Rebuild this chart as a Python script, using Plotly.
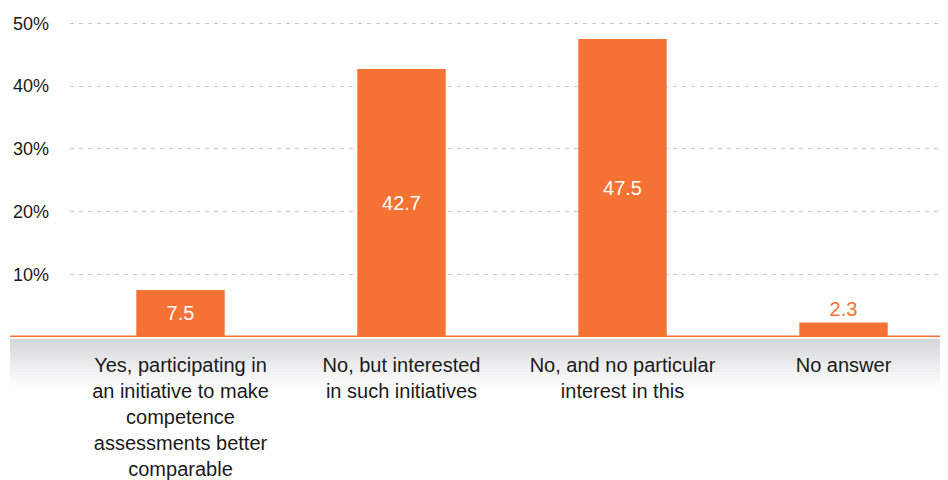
import plotly.graph_objects as go

categories = [
    "Yes, participating in<br>an initiative to make<br>competence<br>assessments better<br>comparable",
    "No, but interested<br>in such initiatives",
    "No, and no particular<br>interest in this",
    "No answer",
]
values = [7.5, 42.7, 47.5, 2.3]
y_ticks = [10, 20, 30, 40, 50]
y_tick_labels = ["10%", "20%", "30%", "40%", "50%"]

ORANGE = "#f37234"
OFF = 8  # page body margin
W, H = 948 - OFF, 480 - OFF
ML, MR, MT, MB = 70 - OFF, 0, 2, 143
plot_w = W - ML - MR
plot_h = H - MT - MB

x_pos = list(range(len(categories)))
text_pos = ["inside", "inside", "inside", "outside"]
text_col = ["white", "white", "white", ORANGE]

fig = go.Figure()
fig.add_trace(go.Bar(
    x=x_pos, y=values, width=0.4,
    marker=dict(color=ORANGE, line=dict(width=0)),
    text=[f"{v:.1f}" for v in values],
    textposition=text_pos,
    insidetextanchor="middle",
    textfont=dict(size=20, color=text_col, family="Liberation Sans, Arial, sans-serif"),
    outsidetextfont=dict(size=20, color=ORANGE),
    cliponaxis=False,
    hoverinfo="skip",
))

# convert page pixel coordinates to paper fractions
def px_x(px):
    return (px - OFF - ML) / plot_w

def px_y(py):
    return (H - MB - (py - OFF)) / plot_h

shapes = []
n = 25
top, bottom = 339, 390
c0 = (214, 215, 218)
for i in range(n):
    t = i / (n - 1)
    c = tuple(int(round(c0[k] + (255 - c0[k]) * t)) for k in range(3))
    y0 = top + (bottom - top) * i / n
    y1 = top + (bottom - top) * (i + 1) / n
    shapes.append(dict(type="rect", xref="paper", yref="paper",
                       x0=px_x(10), x1=px_x(960), y0=px_y(y1), y1=px_y(y0) + 0.001,
                       fillcolor="rgb(%d,%d,%d)" % c, line=dict(width=0), layer="below"))
shapes.append(dict(type="line", xref="paper", yref="y",
                   x0=px_x(10), x1=px_x(960), y0=0, y1=0,
                   line=dict(color=ORANGE, width=3), layer="above"))

fig.update_layout(
    width=W, height=H,
    margin=dict(l=ML, r=MR, t=MT, b=MB, autoexpand=False),
    paper_bgcolor="white", plot_bgcolor="white",
    showlegend=False,
    font=dict(family="Liberation Sans, Arial, sans-serif", color="#1a1a1a"),
    shapes=shapes,
    xaxis=dict(
        range=[-0.5, -0.5 + plot_w / 221.0],
        tickvals=x_pos, ticktext=categories,
        showgrid=False, zeroline=False, showline=False, ticks="",
        tickfont=dict(size=20, color="#1a1a1a"),
        ticklabelstandoff=14,
        automargin=False,
        fixedrange=True,
    ),
    yaxis=dict(
        range=[0, plot_h / 6.275],
        tickvals=y_ticks, ticktext=y_tick_labels,
        showgrid=True, gridcolor="#c8c8c8", gridwidth=1, griddash="4px,5px",
        zeroline=False, showline=False, ticks="",
        tickfont=dict(size=18, color="#1a1a1a"),
        ticklabelstandoff=20,
        automargin=False,
        fixedrange=True,
    ),
)

fig.write_html("out.html")
